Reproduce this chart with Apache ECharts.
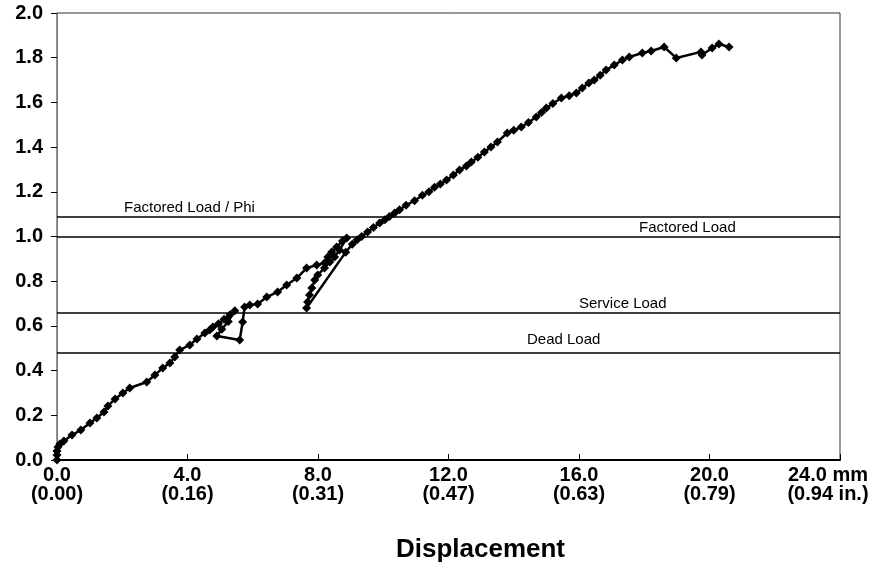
<!DOCTYPE html>
<html>
<head>
	<meta charset="utf-8">
	<title>Load vs Displacement</title>
	<script src="https://cdn.jsdelivr.net/npm/echarts@6/dist/echarts.min.js"></script>
	<style>
	  html, body{
		margin: 0;
		padding: 0;
		background: #fff;
	  }
	  #chart{
		width: 891px;
		height: 575px;
	  }
	</style>
</head>
<body>
<div id="chart"></div>
<script>
	// displacement (mm) and load ratio
	var disp = [
		0.00, 0.00, 0.00, 0.03, 0.09, 0.21, 0.46, 0.73, 1.01, 1.22,
		1.44, 1.56, 1.78, 2.02, 2.23, 2.75, 3.00, 3.24, 3.46, 3.61,
		3.76, 4.07, 4.29, 4.53, 4.68, 4.78, 4.95, 5.12, 5.30, 5.45,
		5.25, 5.05, 4.90, 5.60, 5.69, 5.75, 5.91, 6.15, 6.43, 6.76,
		7.04, 7.35, 7.65, 7.96, 8.20, 8.30, 8.42, 8.57, 8.75, 8.88,
		8.66, 8.51, 8.36, 8.20, 7.99, 7.90, 7.81, 7.74, 7.68, 7.65,
		8.85, 9.05, 9.20, 9.34, 9.52, 9.70, 9.89, 10.05, 10.19, 10.35,
		10.50, 10.70, 10.96, 11.20, 11.40, 11.57, 11.75, 11.94, 12.15, 12.34,
		12.55, 12.70, 12.90, 13.10, 13.30, 13.50, 13.80, 14.00, 14.23, 14.45,
		14.69, 14.85, 15.00, 15.20, 15.46, 15.70, 15.92, 16.10, 16.30, 16.47,
		16.65, 16.83, 17.08, 17.33, 17.54, 17.94, 18.21, 18.61, 18.98, 19.74,
		19.77, 20.08, 20.29, 20.60
	];
	var load = [
		0.000, 0.022, 0.040, 0.058, 0.072, 0.085, 0.112, 0.134, 0.166, 0.188,
		0.215, 0.242, 0.273, 0.300, 0.322, 0.349, 0.380, 0.412, 0.434, 0.461,
		0.492, 0.515, 0.541, 0.568, 0.582, 0.595, 0.610, 0.630, 0.650, 0.668,
		0.620, 0.585, 0.555, 0.537, 0.617, 0.685, 0.693, 0.698, 0.729, 0.752,
		0.783, 0.814, 0.859, 0.872, 0.881, 0.908, 0.931, 0.953, 0.980, 0.993,
		0.940, 0.908, 0.886, 0.859, 0.828, 0.805, 0.770, 0.738, 0.707, 0.680,
		0.930, 0.965, 0.985, 1.000, 1.020, 1.040, 1.060, 1.075, 1.090, 1.105,
		1.120, 1.140, 1.160, 1.185, 1.200, 1.220, 1.235, 1.253, 1.275, 1.298,
		1.315, 1.333, 1.355, 1.378, 1.400, 1.423, 1.463, 1.475, 1.490, 1.510,
		1.535, 1.555, 1.575, 1.595, 1.620, 1.630, 1.642, 1.664, 1.687, 1.700,
		1.722, 1.745, 1.767, 1.790, 1.803, 1.821, 1.830, 1.848, 1.799, 1.826,
		1.812, 1.843, 1.861, 1.848
	];

	// reference load levels
	var refNames = ['Factored Load / Phi', 'Factored Load', 'Service Load', 'Dead Load'];
	var refValues = [1.09, 1.00, 0.655, 0.478];

	// tick labels
	var yLabels = ['0.0', '0.2', '0.4', '0.6', '0.8', '1.0', '1.2', '1.4', '1.6', '1.8', '2.0'];
	var mmLabels = ['0.0', '4.0', '8.0', '12.0', '16.0', '20.0', '24.0 mm'];
	var inLabels = ['(0.00)', '(0.16)', '(0.31)', '(0.47)', '(0.63)', '(0.79)', '(0.94 in.)'];

	var FONT = "'Liberation Sans', Arial, sans-serif";

	var points = [];
	for(var i = 0; i < disp.length; i++){
		points.push([disp[i], load[i]]);
	}

	// label placement along each reference line: [from left edge, above line]
	var refLabelPos = [[67, 1], [582, 1], [522, 1], [470, 5]];
	var refLines = [];
	for(var k = 0; k < refValues.length; k++){
		refLines.push({
			name: refNames[k],
			yAxis: refValues[k],
			label: {
				show: true,
				formatter: refNames[k],
				position: 'insideStartTop',
				distance: refLabelPos[k],
				color: '#000',
				fontFamily: FONT,
				fontSize: 15
			}
		});
	}

	var option = {
		animation: false,
		backgroundColor: '#fff',
		grid: {
			left: 57,
			right: 51,
			top: 13,
			bottom: 115,
			outerBoundsMode: 'none',
			containLabel: false,
			show: true,
			borderColor: '#333',
			borderWidth: 1
		},
		xAxis: {
			type: 'value',
			min: 0,
			max: 24,
			interval: 4,
			name: 'Displacement',
			nameLocation: 'middle',
			nameGap: 77,
			nameTextStyle: {
				color: '#000',
				fontFamily: FONT,
				fontWeight: 'bold',
				fontSize: 26,
				padding: [0, 0, 0, 64]
			},
			axisLine: {lineStyle: {color: '#000', width: 2}},
			axisTick: {inside: true, length: 6, lineStyle: {color: '#000'}},
			splitLine: {show: false},
			axisLabel: {
				margin: 6,
				color: '#000',
				fontFamily: FONT,
				fontWeight: 'bold',
				fontSize: 20,
				lineHeight: 19,
				formatter: function(v){
					var n = Math.round(v / 4);
					if(n == mmLabels.length - 1){
						return '{r|' + mmLabels[n] + '}\n{r|' + inLabels[n] + '}';
					}
					return mmLabels[n] + '\n' + inLabels[n];
				},
				rich: {
					r: {
						fontFamily: FONT,
						fontWeight: 'bold',
						fontSize: 20,
						lineHeight: 19,
						color: '#000',
						padding: [0, 24, 0, 0]
					}
				}
			}
		},
		yAxis: {
			type: 'value',
			min: 0,
			max: 2,
			interval: 0.2,
			axisLine: {show: true, lineStyle: {color: '#777', width: 1}},
			axisTick: {show: true, length: 6, lineStyle: {color: '#000'}},
			splitLine: {show: false},
			axisLabel: {
				margin: 14,
				color: '#000',
				fontFamily: FONT,
				fontWeight: 'bold',
				fontSize: 20,
				formatter: function(v){
					return yLabels[Math.round(v / 0.2)];
				}
			}
		},
		series: [
			{
				name: 'Load',
				type: 'line',
				data: points,
				symbol: 'diamond',
				symbolSize: 9,
				itemStyle: {color: '#000'},
				lineStyle: {color: '#000', width: 2.5},
				z: 3
			},
			{
				name: 'Levels',
				type: 'line',
				data: [],
				markLine: {
					silent: true,
					symbol: 'none',
					lineStyle: {color: '#000', width: 1.5, type: 'solid'},
					data: refLines
				}
			}
		]
	};

	var myChart = echarts.init(document.getElementById('chart'));
	myChart.setOption(option);
</script>
</body>
</html>
